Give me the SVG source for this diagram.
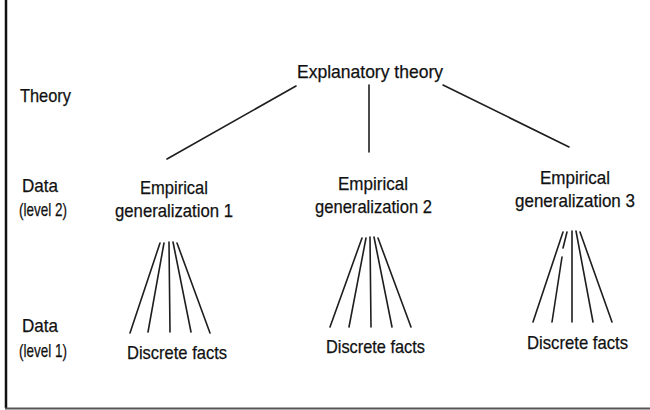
<svg xmlns="http://www.w3.org/2000/svg" width="650" height="410" viewBox="0 0 650 410">
<style>
text{font-family:"Liberation Sans Narrow","Liberation Sans",Arial,sans-serif;font-size:18.5px;fill:#111;stroke:#111;stroke-width:0.25}
.lbl{text-anchor:start}
.ln{stroke:#1e1e1e;stroke-width:1.6;fill:none;stroke-linecap:round}
</style>
<rect x="0" y="0" width="650" height="410" fill="#ffffff"/>
<line x1="6" y1="0" x2="6" y2="408" stroke="#111" stroke-width="2.5"/>
<line x1="5" y1="408.5" x2="650" y2="408.5" stroke="#555" stroke-width="2"/>
<g id="levels">
<text class="lbl" x="20" y="102" textLength="51" lengthAdjust="spacingAndGlyphs">Theory</text>
<text class="lbl" x="22" y="192" textLength="36" lengthAdjust="spacingAndGlyphs">Data</text>
<text class="lbl" x="19" y="216" textLength="48" lengthAdjust="spacingAndGlyphs">(level 2)</text>
<text class="lbl" x="22" y="332" textLength="36" lengthAdjust="spacingAndGlyphs">Data</text>
<text class="lbl" x="19" y="357" textLength="48" lengthAdjust="spacingAndGlyphs">(level 1)</text>
</g>
<g id="theory">
<text x="297" y="78" textLength="146" lengthAdjust="spacingAndGlyphs">Explanatory theory</text>
</g>
<g id="gen1">
<text x="140" y="194" textLength="68" lengthAdjust="spacingAndGlyphs">Empirical</text>
<text x="115" y="217" textLength="118" lengthAdjust="spacingAndGlyphs">generalization 1</text>
</g>
<g id="gen2">
<text x="338" y="190" textLength="70" lengthAdjust="spacingAndGlyphs">Empirical</text>
<text x="315" y="213" textLength="117" lengthAdjust="spacingAndGlyphs">generalization 2</text>
</g>
<g id="gen3">
<text x="540" y="184" textLength="70" lengthAdjust="spacingAndGlyphs">Empirical</text>
<text x="515" y="207" textLength="120" lengthAdjust="spacingAndGlyphs">generalization 3</text>
</g>
<g id="facts1">
<text x="127" y="359" textLength="100" lengthAdjust="spacingAndGlyphs">Discrete facts</text>
</g>
<g id="facts2">
<text x="326" y="353" textLength="99" lengthAdjust="spacingAndGlyphs">Discrete facts</text>
</g>
<g id="facts3">
<text x="527" y="349" textLength="101" lengthAdjust="spacingAndGlyphs">Discrete facts</text>
</g>
<g id="connectors" class="ln">
<line class="ln" x1="296" y1="86" x2="167" y2="159"/>
<line class="ln" x1="369" y1="85" x2="369" y2="152"/>
<line class="ln" x1="443" y1="85" x2="569" y2="147"/>
<line class="ln" x1="160" y1="243" x2="130" y2="333"/>
<line class="ln" x1="164" y1="243" x2="148" y2="332"/>
<line class="ln" x1="169" y1="242" x2="170" y2="332"/>
<line class="ln" x1="173" y1="242" x2="191" y2="332"/>
<line class="ln" x1="177" y1="243" x2="210" y2="333"/>
<line class="ln" x1="362" y1="238" x2="330" y2="327"/>
<line class="ln" x1="366" y1="238" x2="349" y2="327"/>
<line class="ln" x1="370" y1="237" x2="371" y2="327"/>
<line class="ln" x1="374" y1="237" x2="392" y2="327"/>
<line class="ln" x1="378" y1="238" x2="411" y2="327"/>
<line class="ln" x1="563" y1="232" x2="533" y2="322"/>
<line class="ln" x1="567" y1="232" x2="563" y2="248"/>
<line class="ln" x1="562" y1="257" x2="552" y2="322"/>
<line class="ln" x1="572" y1="231" x2="572" y2="322"/>
<line class="ln" x1="576" y1="231" x2="593" y2="322"/>
<line class="ln" x1="580" y1="232" x2="612" y2="322"/>
</g>
</svg>
